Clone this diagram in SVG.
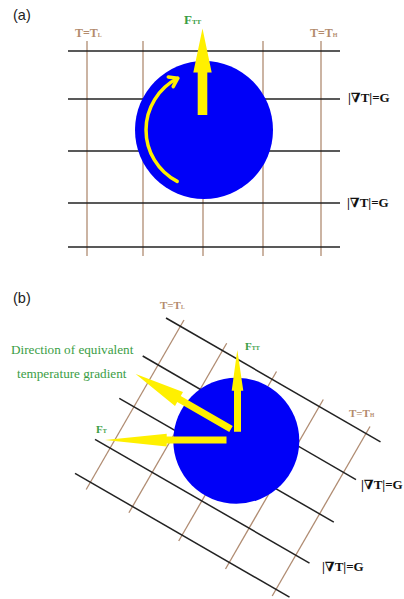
<svg xmlns="http://www.w3.org/2000/svg" width="404" height="599" viewBox="0 0 404 599">
<style>
.bg{fill:#ffffff}
.iso{stroke:#222222;stroke-width:1.5;fill:none}
.tl{stroke:#b08c72;stroke-width:1.3;fill:none}
.disc{fill:#0000f8}
.yl{fill:#fff000}
.ylc{stroke:#fff000;stroke-width:3.5;fill:none;stroke-linecap:round;stroke-linejoin:round}
.pl{font-family:"Liberation Sans",Arial,sans-serif;font-size:14.5px;fill:#222}
.tlab{font-family:"Liberation Serif","Times New Roman",serif;font-weight:bold;fill:#b38b6d}
.glab{font-family:"Liberation Serif","Times New Roman",serif;font-weight:bold;fill:#3a9d45}
.gtxt{font-family:"Liberation Serif","Times New Roman",serif;font-size:13.2px;fill:#3a9d45}
.klab{font-family:"Liberation Serif","DejaVu Serif","Times New Roman",serif;font-weight:bold;font-size:13px;fill:#111}
</style>
<rect class="bg" x="0" y="0" width="404" height="599"/>

<!-- Panel (a) -->
<g id="panel-a">
  <text class="pl" x="13" y="20">(a)</text>
  <g id="grid-a">
    <line class="tl" x1="87" y1="41" x2="87" y2="256"/>
    <line class="tl" x1="143" y1="41" x2="143" y2="256"/>
    <line class="tl" x1="203" y1="41" x2="203" y2="256"/>
    <line class="tl" x1="263" y1="41" x2="263" y2="256"/>
    <line class="tl" x1="321" y1="41" x2="321" y2="256"/>
    <line class="iso" x1="68" y1="51" x2="340" y2="51"/>
    <line class="iso" x1="68" y1="99" x2="340" y2="99"/>
    <line class="iso" x1="68" y1="151" x2="340" y2="151"/>
    <line class="iso" x1="68" y1="203" x2="340" y2="203"/>
    <line class="iso" x1="68" y1="247" x2="340" y2="247"/>
  </g>
  <g id="particle-a">
    <circle class="disc" cx="204" cy="130" r="69"/>
  </g>
  <g id="labels-a">
    <text class="tlab" x="75" y="37" font-size="12">T=T<tspan font-size="6">L</tspan></text>
    <text class="tlab" x="310" y="37" font-size="12">T=T<tspan font-size="6">H</tspan></text>
    <text class="glab" x="184" y="24" font-size="13">F<tspan font-size="7">TT</tspan></text>
    <text class="klab" x="348" y="102">|∇T|=G</text>
    <text class="klab" x="347" y="207">|∇T|=G</text>
  </g>
  <g id="connectors-a">
    <polygon class="yl" points="202.5,28.5 211.7,72.5 207.3,72.5 207.3,115 197.7,115 197.7,72.5 193.3,72.5"/>
    <path class="ylc" d="M177.2,181.4 A58,58 0 0 1 177.7,78.3"/>
    <polyline class="ylc" points="168.3,77 177.7,78.3 173.2,86.7"/>
  </g>
</g>

<!-- Panel (b) -->
<g id="panel-b">
  <text class="pl" x="13" y="303">(b)</text>
  <g id="grid-b">
    <line class="tl" x1="184" y1="320" x2="86.2" y2="489.5"/>
    <line class="tl" x1="226.7" y1="343.3" x2="128.9" y2="512.8"/>
    <line class="tl" x1="276.5" y1="371.5" x2="178.7" y2="541"/>
    <line class="tl" x1="323.3" y1="399.5" x2="225.5" y2="569"/>
    <line class="tl" x1="370" y1="426.5" x2="272.2" y2="596"/>
    <line class="iso" x1="166" y1="318" x2="380.5" y2="441.8"/>
    <line class="iso" x1="142.7" y1="356" x2="356" y2="479.6"/>
    <line class="iso" x1="119.3" y1="398.3" x2="333.8" y2="522.1"/>
    <line class="iso" x1="95" y1="439.3" x2="309.5" y2="563.1"/>
    <line class="iso" x1="75" y1="473.3" x2="289.5" y2="597.1"/>
  </g>
  <g id="particle-b">
    <circle class="disc" cx="236.3" cy="440.7" r="63"/>
  </g>
  <g id="labels-b">
    <text class="tlab" x="160" y="308.5" font-size="11">T=T<tspan font-size="5.5">L</tspan></text>
    <text class="tlab" x="349" y="417" font-size="11">T=T<tspan font-size="5.5">H</tspan></text>
    <text class="glab" x="245" y="350" font-size="11">F<tspan font-size="6">TT</tspan></text>
    <text class="glab" x="96" y="433" font-size="11">F<tspan font-size="6">T</tspan></text>
    <text class="gtxt" x="11" y="354">Direction of equivalent</text>
    <text class="gtxt" x="17" y="377.5">temperature gradient</text>
    <text class="klab" x="361" y="488.5" font-size="11.5">|∇T|=G</text>
    <text class="klab" x="322" y="570.5">|∇T|=G</text>
  </g>
  <g id="connectors-b">
    <polygon class="yl" points="237.3,350 243.3,390.7 241,390.7 241,431.7 234,431.7 234,390.7 231.7,390.7"/>
    <polygon class="yl" points="135.7,374 183,392.1 180.75,396 232.75,426 229.25,432 177.25,402 175,405.9"/>
    <polygon class="yl" points="105,440 166.7,433.8 166.7,436.6 226.5,436.6 226.5,443.6 166.7,443.6 166.7,446.5"/>
  </g>
</g>
</svg>
